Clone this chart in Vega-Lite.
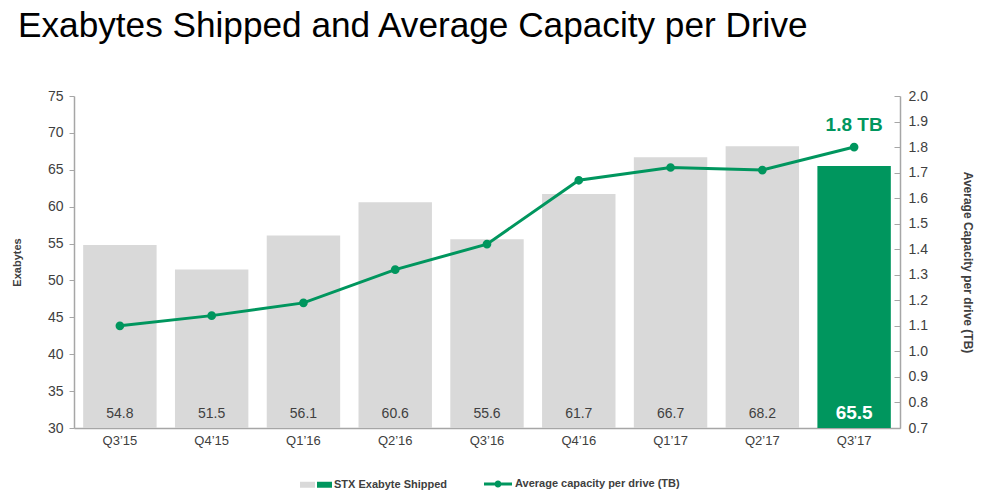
{
  "$schema": "https://vega.github.io/schema/vega-lite/v6.json",
  "autosize": {"type": "none"},
  "width": 826,
  "height": 332,
  "padding": {"left": 74, "top": 96, "right": 83, "bottom": 71},
  "background": "white",
  "config": {
    "font": "Liberation Sans",
    "view": {"stroke": null},
    "axis": {"labelFont": "Liberation Sans", "titleFont": "Liberation Sans", "domainColor": "#a6a6a6", "tickColor": "#a6a6a6", "labelColor": "#404040", "titleColor": "#404040", "grid": false, "labelOverlap": false}
  },
  "title": {
    "text": "Exabytes Shipped and Average Capacity per Drive",
    "anchor": "start",
    "frame": "group",
    "dx": -56,
    "offset": 17,
    "baseline": "alphabetic",
    "fontSize": 35.2,
    "fontWeight": "normal",
    "font": "Liberation Sans",
    "color": "#000000"
  },
  "data": {
    "values": [
      {"q": "Q3’15", "exa": 54.8, "cap": 1.10, "kind": "Other"},
      {"q": "Q4’15", "exa": 51.5, "cap": 1.14, "kind": "Other"},
      {"q": "Q1’16", "exa": 56.1, "cap": 1.19, "kind": "Other"},
      {"q": "Q2’16", "exa": 60.6, "cap": 1.32, "kind": "Other"},
      {"q": "Q3’16", "exa": 55.6, "cap": 1.42, "kind": "Other"},
      {"q": "Q4’16", "exa": 61.7, "cap": 1.67, "kind": "Other"},
      {"q": "Q1’17", "exa": 66.7, "cap": 1.72, "kind": "Other"},
      {"q": "Q2’17", "exa": 68.2, "cap": 1.71, "kind": "Other"},
      {"q": "Q3’17", "exa": 65.5, "cap": 1.80, "kind": "STX Exabyte Shipped"}
    ]
  },
  "encoding": {
    "x": {
      "field": "q", "type": "nominal", "sort": null,
      "scale": {"paddingInner": 0.2, "paddingOuter": 0.1},
      "axis": {"title": null, "labelAngle": 0, "ticks": false, "labelFontSize": 13, "labelPadding": 6, "domainWidth": 1.5}
    }
  },
  "layer": [
    {
      "layer": [
        {
          "mark": {"type": "bar", "clip": true},
          "encoding": {
            "y": {
              "field": "exa", "type": "quantitative",
              "scale": {"domain": [30, 75], "zero": false, "nice": false},
              "axis": {"title": "Exabytes", "values": [30, 35, 40, 45, 50, 55, 60, 65, 70, 75], "tickCount": 30, "labelOverlap": false, "labelBound": false, "labelFlush": false, "labelFontSize": 14, "labelPadding": 6, "tickSize": 5, "titleFontSize": 11, "titleFontWeight": "bold", "titlePadding": 25, "domainWidth": 1.5}
            },
            "fill": {
              "field": "kind", "type": "nominal",
              "scale": {"domain": ["Other", "STX Exabyte Shipped"], "range": ["#d9d9d9", "#00965e"]},
              "legend": {
                "title": null, "orient": "none", "legendX": 226, "legendY": 381, "direction": "horizontal",
                "symbolType": "M-1,-0.4H1V0.4H-1Z", "symbolSize": 225, "symbolStrokeWidth": 0,
                "labelExpr": "datum.label === 'Other' ? ' ' : datum.label",
                "labelFontSize": 11, "labelFontWeight": "bold", "labelColor": "#404040", "labelFont": "Liberation Sans",
                "labelOffset": 2, "columnPadding": 0, "labelLimit": 300
              }
            }
          }
        },
        {
          "transform": [{"filter": "datum.kind === 'Other'"}],
          "mark": {"type": "text", "fontSize": 14, "color": "#404040", "baseline": "middle"},
          "encoding": {
            "y": {"datum": 31.9, "type": "quantitative"},
            "text": {"field": "exa", "type": "quantitative", "format": ".1f"}
          }
        },
        {
          "transform": [{"filter": "datum.kind !== 'Other'"}],
          "mark": {"type": "text", "fontSize": 19, "fontWeight": "bold", "color": "white", "baseline": "middle"},
          "encoding": {
            "y": {"datum": 32.1, "type": "quantitative"},
            "text": {"field": "exa", "type": "quantitative", "format": ".1f"}
          }
        }
      ]
    },
    {
      "layer": [
        {
          "mark": {"type": "line", "strokeWidth": 3, "color": "#00965e", "point": {"filled": true, "size": 45, "color": "#00965e"}},
          "encoding": {
            "y": {
              "field": "cap", "type": "quantitative",
              "scale": {"domain": [0.7, 2.0], "zero": false, "nice": false},
              "axis": {"orient": "right", "title": "Average Capacity per drive (TB)", "format": ".1f", "values": [0.7, 0.8, 0.9, 1.0, 1.1, 1.2, 1.3, 1.4, 1.5, 1.6, 1.7, 1.8, 1.9, 2.0], "tickCount": 30, "labelOverlap": false, "labelBound": false, "labelFlush": false, "labelFontSize": 14, "tickSize": -6, "labelPadding": 14, "titleFontSize": 12, "titleFontWeight": "bold", "titleAngle": 90, "titlePadding": 33, "domainWidth": 1.5}
            },
            "stroke": {
              "datum": "Average capacity per drive (TB)", "type": "nominal",
              "scale": {"range": ["#00965e"]},
              "legend": {
                "title": null, "orient": "none", "legendX": 410, "legendY": 374, "direction": "horizontal",
                "symbolType": "M-1,-0.1H1V0.1H-1Z M-0.25,0A0.25,0.25 0 1,1 0.25,0A0.25,0.25 0 1,1 -0.25,0Z",
                "symbolSize": 784,
                "labelFontSize": 11, "labelFontWeight": "bold", "labelColor": "#404040", "labelFont": "Liberation Sans",
                "labelOffset": 3, "labelLimit": 300,
                "symbolFillColor": "#00965e", "symbolStrokeWidth": 0,
                "encode": {"symbols": {"update": {"fill": {"value": "#00965e"}, "strokeWidth": {"value": 0}}}}
              }
            }
          }
        },
        {
          "transform": [
            {"filter": "datum.kind !== 'Other'"},
            {"calculate": "format(datum.cap, '.1f') + ' TB'", "as": "capLabel"}
          ],
          "mark": {"type": "text", "fontSize": 19, "fontWeight": "bold", "color": "#00965e", "baseline": "middle", "dy": -22},
          "encoding": {
            "y": {"field": "cap", "type": "quantitative"},
            "text": {"field": "capLabel", "type": "nominal"}
          }
        }
      ]
    }
  ],
  "resolve": {"scale": {"y": "independent", "fill": "independent", "stroke": "independent"}}
}
